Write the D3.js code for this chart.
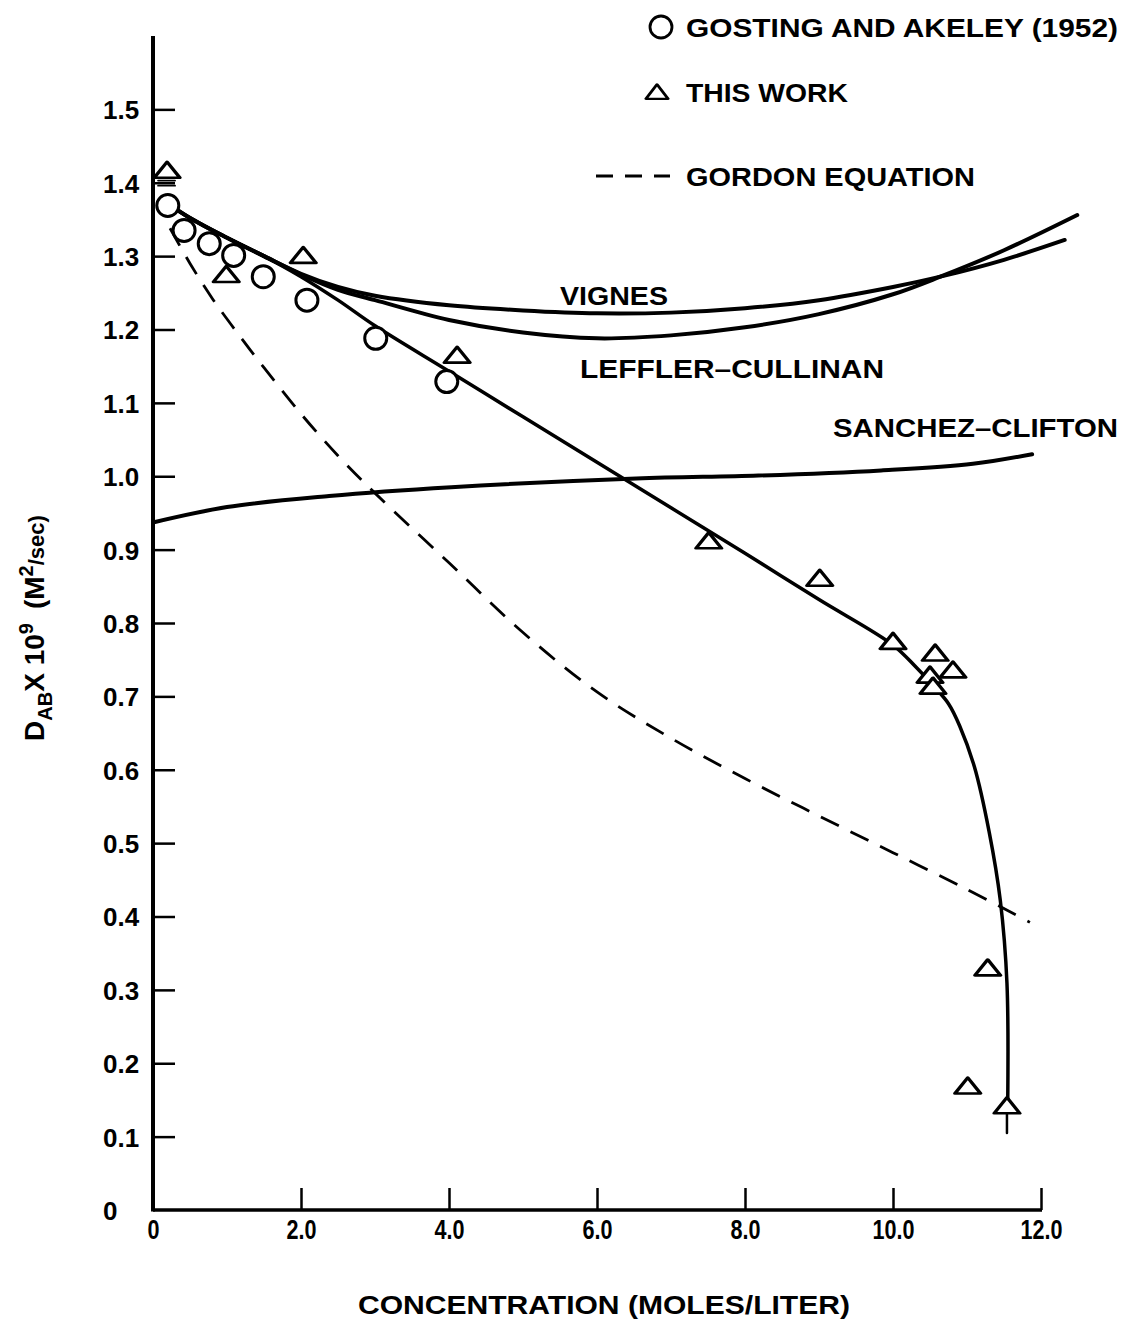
<!DOCTYPE html>
<html>
<head>
<meta charset="utf-8">
<script src="https://cdn.jsdelivr.net/npm/d3@7/dist/d3.min.js"></script>
<style>
  html, body { margin: 0; padding: 0; background: #fff; }
  svg { display: block; }
  text { font-family: "Liberation Sans", Arial, Helvetica, sans-serif; font-weight: bold; fill: #000; }
</style>
</head>
<body>
<svg id="chart" width="1126" height="1319"></svg>
<script>
// Diffusivity of the binary system vs. concentration

// Gosting and Akeley (1952) measurements: [concentration, D x 1e9]
const gostingX = [0.20, 0.42, 0.76, 1.09, 1.49, 2.08, 3.01, 3.97];
const gostingY = [1.369, 1.335, 1.317, 1.301, 1.272, 1.240, 1.188, 1.129];

// This work
const thisWorkX = [0.19, 0.99, 2.03, 4.11, 7.51, 9.01, 10.00, 10.57, 10.50, 10.81, 10.54, 11.28, 11.01, 11.54];
const thisWorkY = [1.414, 1.272, 1.298, 1.162, 0.909, 0.858, 0.772, 0.756, 0.726, 0.733, 0.711, 0.327, 0.166, 0.139];

// Smoothed curve through this work
const fitX = [0.15, 0.5, 1.0, 1.5, 2.0, 2.5, 3.0, 4.0, 5.0, 6.0, 7.0, 8.0, 9.0, 10.0, 10.3, 10.55, 10.75, 10.9, 11.1, 11.3, 11.45, 11.54, 11.55];
const fitY = [1.375, 1.352, 1.325, 1.300, 1.272, 1.240, 1.205, 1.143, 1.081, 1.019, 0.957, 0.895, 0.832, 0.770, 0.741, 0.714, 0.690, 0.660, 0.604, 0.515, 0.422, 0.309, 0.143];

// Vignes prediction
const vignesX = [0.15, 0.5, 1.0, 1.5, 2.0, 2.5, 3.0, 4.0, 5.0, 6.0, 7.0, 8.0, 9.0, 10.0, 10.64, 11.5, 12.32];
const vignesY = [1.375, 1.352, 1.325, 1.300, 1.276, 1.258, 1.246, 1.233, 1.226, 1.222, 1.223, 1.229, 1.240, 1.258, 1.272, 1.295, 1.322];

// Leffler-Cullinan prediction
const lefflerX = [0.15, 0.5, 1.0, 1.5, 2.0, 2.5, 3.0, 4.0, 5.0, 6.0, 7.0, 8.0, 9.0, 10.0, 10.64, 11.5, 12.49];
const lefflerY = [1.375, 1.352, 1.325, 1.300, 1.275, 1.254, 1.240, 1.213, 1.196, 1.188, 1.192, 1.203, 1.221, 1.248, 1.272, 1.308, 1.356];

// Sanchez-Clifton prediction
const sanchezX = [0.0, 1.0, 2.38, 4.03, 6.53, 8.18, 9.84, 11.08, 11.88];
const sanchezY = [0.937, 0.958, 0.973, 0.985, 0.997, 1.001, 1.008, 1.017, 1.030];

// Gordon equation
const gordonX = [0.23, 0.5, 0.81, 1.18, 1.5, 2.0, 2.5, 3.0, 4.0, 5.0, 6.0, 7.0, 8.0, 9.0, 10.0, 11.0, 11.85];
const gordonY = [1.338, 1.29, 1.241, 1.19, 1.148, 1.085, 1.028, 0.977, 0.882, 0.787, 0.706, 0.643, 0.588, 0.537, 0.487, 0.437, 0.392];

// Error bar marks: lower end of the last point, caps below the first point
const errBarX = [11.54];
const errBarLo = [0.105];
const errBarHi = [0.139];
const capX = [0.19, 0.19];
const capY = [1.403, 1.396];

// Axis ticks
const xTicks = [0, 2, 4, 6, 8, 10, 12];
const xTickLabels = ["0", "2.0", "4.0", "6.0", "8.0", "10.0", "12.0"];
const yTicks = [0, 0.1, 0.2, 0.3, 0.4, 0.5, 0.6, 0.7, 0.8, 0.9, 1.0, 1.1, 1.2, 1.3, 1.4, 1.5];
const yTickLabels = ["0", "0.1", "0.2", "0.3", "0.4", "0.5", "0.6", "0.7", "0.8", "0.9", "1.0", "1.1", "1.2", "1.3", "1.4", "1.5"];

const svg = d3.select("#chart");

const x = d3.scaleLinear().domain([0, 12]).range([153, 1041]);
const y = d3.scaleLinear().domain([0, 1.6]).range([1210, 36]);

const zip = (xs, ys) => xs.map((v, i) => [v, ys[i]]);

// ---- axes ----
const yAxis = svg.append("g").attr("transform", `translate(${x(0)},0)`)
  .call(d3.axisLeft(y).tickValues(yTicks).tickSize(-22).tickPadding(0)
        .tickFormat((d, i) => yTickLabels[i]));
yAxis.select(".domain").remove();
yAxis.selectAll(".tick line").attr("stroke", "#000").attr("stroke-width", 2.5)
  .filter(d => d === 0).remove();
yAxis.selectAll(".tick text").attr("x", -50).attr("text-anchor", "start")
  .attr("dy", "0.36em").style("font-size", "26px").style("font-family", null);

svg.append("line").attr("x1", x(0)).attr("x2", x(0)).attr("y1", y(0) + 1.5).attr("y2", y(1.6))
  .attr("stroke", "#000").attr("stroke-width", 4);

const xAxis = svg.append("g").attr("transform", `translate(0,${y(0)})`)
  .call(d3.axisBottom(x).tickValues(xTicks).tickSize(-22).tickPadding(10)
        .tickFormat((d, i) => xTickLabels[i]));
xAxis.select(".domain").remove();
xAxis.selectAll(".tick line").attr("stroke", "#000").attr("stroke-width", 2.5)
  .filter(d => d === 0).remove();
xAxis.selectAll(".tick text").style("font-size", "27px").style("font-family", null)
  .each(function () {
    // narrow, tall figures on the concentration axis
    const w = this.getComputedTextLength();
    d3.select(this).attr("textLength", w * 0.8).attr("lengthAdjust", "spacingAndGlyphs");
  });

svg.append("line").attr("x1", x(0)).attr("x2", x(12) + 1).attr("y1", y(0)).attr("y2", y(0))
  .attr("stroke", "#000").attr("stroke-width", 3.5);

// ---- axis titles ----
svg.append("text").attr("x", 358).attr("y", 1314)
  .attr("textLength", 492).attr("lengthAdjust", "spacingAndGlyphs")
  .style("font-size", "26px")
  .text("CONCENTRATION  (MOLES/LITER)");

const yt = svg.append("text").attr("transform", "translate(44,628) rotate(-90)")
  .attr("text-anchor", "middle").style("font-size", "28px");
yt.append("tspan").text("D");
yt.append("tspan").attr("dy", 8).style("font-size", "20px").text("AB");
yt.append("tspan").attr("dy", -8).text("X 10");
yt.append("tspan").attr("dy", -11).style("font-size", "20px").text("9");
yt.append("tspan").attr("dy", 11).text("\u2002(M");
yt.append("tspan").attr("dy", -11).style("font-size", "20px").text("2");
yt.append("tspan").attr("dy", 11).style("font-size", "22px").text("/sec)");

// ---- curves ----
const line = d3.line().x(d => x(d[0])).y(d => y(d[1])).curve(d3.curveCatmullRom.alpha(0.5));

const curves = svg.append("g").attr("fill", "none").attr("stroke", "#000")
  .attr("stroke-linecap", "round").attr("stroke-linejoin", "round");
curves.append("path").attr("d", line(zip(sanchezX, sanchezY))).attr("stroke-width", 4);
curves.append("path").attr("d", line(zip(vignesX, vignesY))).attr("stroke-width", 4);
curves.append("path").attr("d", line(zip(lefflerX, lefflerY))).attr("stroke-width", 4);
curves.append("path").attr("d", line(zip(fitX, fitY))).attr("stroke-width", 3.5);
curves.append("path").attr("d", line(zip(gordonX, gordonY))).attr("stroke-width", 2.8)
  .attr("stroke-linecap", "butt").attr("stroke-dasharray", "20 13");

// error marks
curves.selectAll(".err").data(errBarX).join("line")
  .attr("x1", d => x(d)).attr("x2", d => x(d))
  .attr("y1", (d, i) => y(errBarHi[i])).attr("y2", (d, i) => y(errBarLo[i]))
  .attr("stroke-width", 2.5);
curves.selectAll(".cap").data(capX).join("line")
  .attr("x1", d => x(d) - 9).attr("x2", d => x(d) + 8)
  .attr("y1", (d, i) => y(capY[i])).attr("y2", (d, i) => y(capY[i]))
  .attr("stroke-width", 1.8);

// ---- markers ----
const tri = d3.symbol(d3.symbolTriangle, 215);
svg.append("g").selectAll("circle").data(zip(gostingX, gostingY)).join("circle")
  .attr("cx", d => x(d[0])).attr("cy", d => y(d[1])).attr("r", 11)
  .attr("fill", "#fff").attr("stroke", "#000").attr("stroke-width", 3);
svg.append("g").selectAll("path").data(zip(thisWorkX, thisWorkY)).join("path")
  .attr("d", tri).attr("transform", d => `translate(${x(d[0])},${y(d[1])}) scale(1.15,0.82)`)
  .attr("fill", "#fff").attr("stroke", "#000").attr("stroke-width", 3.2)
  .attr("stroke-linejoin", "round");

// ---- curve labels ----
const label = (txt, lx, ly, len) => svg.append("text").attr("x", lx).attr("y", ly)
  .attr("textLength", len).attr("lengthAdjust", "spacingAndGlyphs")
  .style("font-size", "26px").text(txt);
label("VIGNES", 560, 305, 108);
label("LEFFLER\u2013CULLINAN", 580, 378, 304);
label("SANCHEZ\u2013CLIFTON", 833, 437, 285);

// ---- legend ----
svg.append("circle").attr("cx", 661).attr("cy", 27).attr("r", 11)
  .attr("fill", "#fff").attr("stroke", "#000").attr("stroke-width", 2.8);
label("GOSTING AND AKELEY  (1952)", 686, 37, 432);
svg.append("path").attr("d", tri).attr("transform", "translate(657,94) scale(1.0,0.75)")
  .attr("fill", "#fff").attr("stroke", "#000").attr("stroke-width", 3).attr("stroke-linejoin", "round");
label("THIS WORK", 686, 102, 162);
svg.append("line").attr("x1", 596).attr("x2", 670).attr("y1", 176).attr("y2", 176)
  .attr("stroke", "#000").attr("stroke-width", 2.8).attr("stroke-dasharray", "17 12");
label("GORDON EQUATION", 686, 186, 289);
</script>
</body>
</html>
